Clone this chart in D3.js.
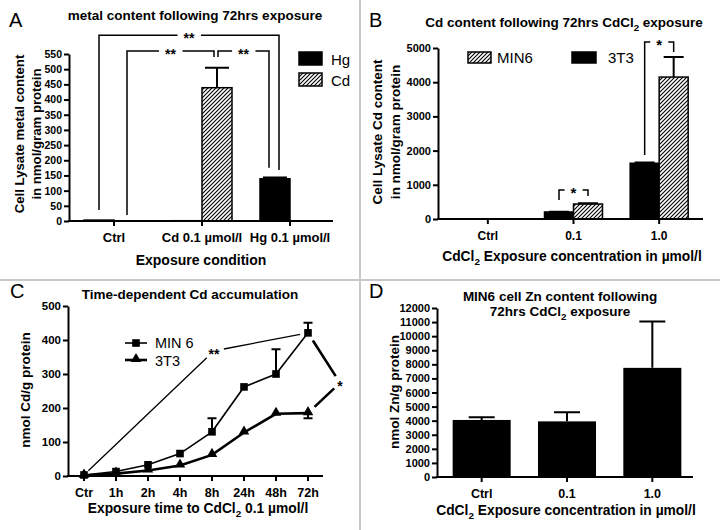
<!DOCTYPE html>
<html>
<head>
<meta charset="utf-8">
<script src="https://cdn.jsdelivr.net/npm/d3@7"></script>
<style>
  body { margin: 0; background: #fff; }
  text { font-family: "Liberation Sans", Arial, sans-serif; fill: #000; }
</style>
</head>
<body>
<div id="figure"></div>
<script>
// ---- panel A : metal content
const aCategories = ["Ctrl", "Cd 0.1 µmol/l", "Hg 0.1 µmol/l"];
const aHg = [3, 1, 139];
const aHgErr = [0, 0, 4];
const aCd = [0, 439, 0];
const aCdErr = [0, 66, 0];
const aYTicks = [0, 50, 100, 150, 200, 250, 300, 350, 400, 450, 500, 550];
const aSig = [
    {from: ["Ctrl", "Hg"], to: ["Hg 0.1 µmol/l", "Hg"], top: 612, left: 36, right: 168, label: "**"},
    {from: ["Ctrl", "Cd"], to: ["Cd 0.1 µmol/l", "Cd"], top: 560, left: 20, right: 540, label: "**"},
    {from: ["Cd 0.1 µmol/l", "Cd"], to: ["Hg 0.1 µmol/l", "Hg"], top: 560, left: 540, right: 175, label: "**"}
];

// ---- panel B : Cd content by cell line
const bCategories = ["Ctrl", "0.1", "1.0"];
const bMin6 = [5, 438, 4150];
const bMin6Err = [0, 25, 590];
const b3T3 = [5, 205, 1630];
const b3T3Err = [0, 10, 20];
const bYTicks = [0, 1000, 2000, 3000, 4000, 5000];
const bSig = [
    {from: ["0.1", "3T3"], to: ["0.1", "MIN6"], top: 848, left: 555, right: 672, label: "*"},
    {from: ["1.0", "3T3"], to: ["1.0", "MIN6"], top: 5175, left: 1871, right: 4883, label: "*"}
];

// ---- panel C : time course
const cCategories = ["Ctr", "1h", "2h", "4h", "8h", "24h", "48h", "72h"];
const cMin6 = [3, 13, 33, 66, 130, 262, 300, 421];
const cMin6Err = [2, 2, 4, 6, 40, 5, 73, 30];
const c3T3 = [1, 7, 16, 31, 62, 128, 183, 185];
const c3T3Err = [1, 1, 2, 3, 4, 6, 5, 15];
const cYTicks = [0, 100, 200, 300, 400, 500];

// ---- panel D : Zn content
const dCategories = ["Ctrl", "0.1", "1.0"];
const dZn = [4050, 3950, 7750];
const dZnErr = [200, 650, 3300];
const dYTicks = [0, 1000, 2000, 3000, 4000, 5000, 6000, 7000, 8000, 9000, 10000, 11000, 12000];

const width = 720;
const height = 530;

let svg = d3.select("#figure")
    .append("svg")
    .attr("width", width)
    .attr("height", height)
    .style("background", "#fff");

let pattern = svg.append("defs").append("pattern")
    .attr("id", "hatch")
    .attr("patternUnits", "userSpaceOnUse")
    .attr("width", 4)
    .attr("height", 4);
pattern.append("rect").attr("width", 4).attr("height", 4).attr("fill", "#fff");
pattern.append("path")
    .attr("d", "M-1,1 l2,-2 M0,4 l4,-4 M3,5 l2,-2")
    .attr("stroke", "#000")
    .attr("stroke-width", 1.1);

// panel dividers
svg.append("line").attr("x1", 360).attr("x2", 360).attr("y1", 0).attr("y2", height)
    .attr("stroke", "#c8c8c8").attr("stroke-width", 2);
svg.append("line").attr("x1", 0).attr("x2", width).attr("y1", 280).attr("y2", 280)
    .attr("stroke", "#c8c8c8").attr("stroke-width", 2);

function addText(g, parts, x, y, size, weight, anchor) {
    let t = g.append("text")
        .attr("x", x)
        .attr("y", y)
        .attr("text-anchor", anchor || "middle")
        .style("font-size", size + "px")
        .style("font-weight", weight || "bold");
    let shift = 0;
    [].concat(parts).forEach(p => {
        if (typeof p === "string") {
            t.append("tspan").attr("dy", -shift).text(p);
            shift = 0;
        } else {
            shift = size * 0.3;
            t.append("tspan").attr("dy", shift).style("font-size", (size * 0.72) + "px").text(p.sub);
        }
    });
    return t;
}

function addYLabel(g, parts, x, y, size) {
    addText(g, parts, 0, 0, size).attr("transform", `translate(${x},${y}) rotate(-90)`);
}

function drawAxes(g, box, x, y, yTicks, ySize, xSize) {
    let ya = g.append("g")
        .attr("transform", `translate(${box.left},0)`)
        .call(d3.axisLeft(y).tickValues(yTicks).tickFormat(d3.format("d"))
            .tickSize(5).tickSizeOuter(0).tickPadding(2));
    ya.select(".domain").attr("stroke-width", 2);
    ya.selectAll(".tick line").attr("stroke-width", 2);
    ya.selectAll(".tick text").style("font-size", ySize + "px").style("font-weight", "bold");

    let xa = g.append("g")
        .attr("transform", `translate(0,${box.bottom})`)
        .call(d3.axisBottom(x).tickSize(5).tickSizeOuter(0).tickPadding(7));
    xa.select(".domain").remove();
    xa.append("line")
        .attr("x1", box.left - 1).attr("x2", box.right)
        .attr("stroke", "#000").attr("stroke-width", 2);
    xa.selectAll(".tick line").attr("stroke-width", 2);
    xa.selectAll(".tick text").style("font-size", xSize + "px").style("font-weight", "bold");
}

function drawGroupedBars(g, cats, series, x, x1, y) {
    series.forEach(s => {
        g.selectAll(null)
            .data(cats.map((c, i) => ({c: c, v: s.values[i], e: s.errors[i]})))
            .enter()
            .append("rect")
            .attr("x", d => x(d.c) + x.bandwidth() / 2 + x1(s.name))
            .attr("width", x1.bandwidth())
            .attr("y", d => y(d.v))
            .attr("height", d => y(0) - y(d.v))
            .attr("fill", s.fill)
            .attr("stroke", "#000")
            .attr("stroke-width", 1.5);
        drawErrors(g, cats.map((c, i) => ({
            cx: x(c) + x.bandwidth() / 2 + x1(s.name) + x1.bandwidth() / 2,
            v: s.values[i], e: s.errors[i]
        })).filter(d => d.e > 0), y, s.cap, 1);
    });
}

function drawErrors(g, data, y, cap, dir) {
    g.selectAll(null)
        .data(data)
        .enter()
        .append("path")
        .attr("d", d => `M${d.cx},${y(d.v)} V${y(d.v + dir * d.e)} M${d.cx - cap / 2},${y(d.v + dir * d.e)} h${cap}`)
        .attr("fill", "none")
        .attr("stroke", "#000")
        .attr("stroke-width", 2);
}

function labelWithGap(g, txt, cx, cy, size) {
    let bg = g.append("rect").attr("fill", "#fff");
    let t = g.append("text")
        .attr("x", cx)
        .attr("y", cy + size * 0.55)
        .attr("text-anchor", "middle")
        .style("font-size", size + "px")
        .style("font-weight", "bold")
        .text(txt);
    let bb = t.node().getBBox();
    bg.attr("x", bb.x - 6).attr("width", bb.width + 12)
        .attr("y", cy - 3).attr("height", 6);
}

function drawBrackets(g, sig, barCenter, y, nudges, size) {
    sig.forEach((s, i) => {
        let x1 = barCenter(s.from) + nudges[i][0];
        let x2 = barCenter(s.to) + nudges[i][1];
        g.append("path")
            .attr("d", `M${x1},${y(s.left)} V${y(s.top)} H${x2} V${y(s.right)}`)
            .attr("fill", "none")
            .attr("stroke", "#000")
            .attr("stroke-width", 1.5);
        labelWithGap(g, s.label, (x1 + x2) / 2, y(s.top), size);
    });
}

// ================= panel A
{
    let g = svg.append("g");
    const box = {left: 69, right: 333, bottom: 221, top: 54};
    let x = d3.scaleBand().domain(aCategories).range([70, 334]);
    let x1 = d3.scaleBand().domain(["Hg", "Cd"]).range([-30, 30]);
    let y = d3.scaleLinear().domain([0, 550]).range([box.bottom, box.top]);

    drawGroupedBars(g, aCategories, [
        {name: "Hg", values: aHg, errors: aHgErr, fill: "#000", cap: 24},
        {name: "Cd", values: aCd, errors: aCdErr, fill: "url(#hatch)", cap: 24}
    ], x, x1, y);
    drawAxes(g, box, x, y, aYTicks, 10.5, 13);

    let center = ref => x(ref[0]) + x.bandwidth() / 2 + x1(ref[1]) + x1.bandwidth() / 2;
    drawBrackets(g, aSig, center, y, [[0, 4], [-2, -3], [1, -6]], 14);

    addText(g, "metal content following 72hrs exposure", 195, 20, 13.5);
    addText(g, "A", 9, 27, 20, "normal", "start");
    addText(g, "Exposure condition", 201, 265, 14);
    addYLabel(g, "Cell Lysate metal content", 24, 134, 13.2);
    addYLabel(g, "in nmol/gram protein", 41, 134, 13.2);

    g.append("rect").attr("x", 299).attr("y", 52).attr("width", 23).attr("height", 13)
        .attr("fill", "#000").attr("stroke", "#000").attr("stroke-width", 1.5);
    g.append("rect").attr("x", 299).attr("y", 73).attr("width", 23).attr("height", 13)
        .attr("fill", "url(#hatch)").attr("stroke", "#000").attr("stroke-width", 1.5);
    addText(g, "Hg", 331, 65, 15, "normal", "start");
    addText(g, "Cd", 331, 86, 15, "normal", "start");
}

// ================= panel B
{
    let g = svg.append("g");
    const box = {left: 438, right: 703, bottom: 219, top: 48};
    let x = d3.scaleBand().domain(bCategories).range([445, 702]);
    let x1 = d3.scaleBand().domain(["3T3", "MIN6"]).range([-29, 29]);
    let y = d3.scaleLinear().domain([0, 5000]).range([box.bottom, box.top]);

    drawGroupedBars(g, bCategories, [
        {name: "3T3", values: b3T3, errors: b3T3Err, fill: "#000", cap: 20},
        {name: "MIN6", values: bMin6, errors: bMin6Err, fill: "url(#hatch)", cap: 20}
    ], x, x1, y);
    drawAxes(g, box, x, y, bYTicks, 11, 12);

    let center = ref => x(ref[0]) + x.bandwidth() / 2 + x1(ref[1]) + x1.bandwidth() / 2;
    drawBrackets(g, bSig, center, y, [[0, 0], [0, 0]], 15);

    addText(g, ["Cd content following 72hrs CdCl", {sub: "2"}, " exposure"], 564, 27, 13.5);
    addText(g, "B", 369, 27, 20, "normal", "start");
    addText(g, ["CdCl", {sub: "2"}, " Exposure concentration in µmol/l"], 572, 261, 13.8);
    addYLabel(g, "Cell Lysate Cd content", 382, 132, 13.5);
    addYLabel(g, "in nmol/gram protein", 400, 132, 13.5);

    g.append("rect").attr("x", 468).attr("y", 52).attr("width", 23).attr("height", 11)
        .attr("fill", "url(#hatch)").attr("stroke", "#000").attr("stroke-width", 1.5);
    g.append("rect").attr("x", 572).attr("y", 52).attr("width", 24).attr("height", 11)
        .attr("fill", "#000").attr("stroke", "#000").attr("stroke-width", 1.5);
    addText(g, "MIN6", 497, 63, 15, "normal", "start");
    addText(g, "3T3", 608, 63, 15, "normal", "start");
}

// ================= panel C
{
    let g = svg.append("g");
    const box = {left: 68, right: 323, bottom: 476, top: 306};
    let x = d3.scaleBand().domain(cCategories).range([68, 324]);
    let y = d3.scaleLinear().domain([0, 500]).range([box.bottom, box.top]);
    let cx = c => x(c) + x.bandwidth() / 2;

    drawAxes(g, box, x, y, cYTicks, 11.5, 12.5);

    let line = d3.line().x(d => cx(d.c)).y(d => y(d.v));
    let min6 = cCategories.map((c, i) => ({c: c, v: cMin6[i], e: cMin6Err[i], cx: cx(c)}));
    let t3 = cCategories.map((c, i) => ({c: c, v: c3T3[i], e: c3T3Err[i], cx: cx(c)}));

    drawErrors(g, min6.filter(d => d.e > 8), y, 9, 1);
    drawErrors(g, t3.filter(d => d.e > 8), y, 9, -1);

    g.append("path").datum(min6).attr("d", line)
        .attr("fill", "none").attr("stroke", "#000").attr("stroke-width", 1.6);
    g.append("path").datum(t3).attr("d", line)
        .attr("fill", "none").attr("stroke", "#000").attr("stroke-width", 2.6);

    let square = d3.symbol(d3.symbolSquare, 58);
    let triangle = d3.symbol(d3.symbolTriangle, 48);
    g.selectAll(null).data(min6).enter().append("path")
        .attr("transform", d => `translate(${d.cx},${y(d.v)})`).attr("d", square);
    g.selectAll(null).data(t3).enter().append("path")
        .attr("transform", d => `translate(${d.cx},${y(d.v) - 1})`).attr("d", triangle);

    // significance annotations: start point, label point, end point
    function annotate(p0, pl, p1, txt, sw, gap0, gapL, gap1) {
        let shrink = (a, b, d) => {
            let dx = b[0] - a[0], dy = b[1] - a[1], L = Math.hypot(dx, dy);
            return [a[0] + dx / L * d, a[1] + dy / L * d];
        };
        let s0 = shrink(p0, pl, gap0), e0 = shrink(pl, p0, gapL);
        let s1 = shrink(pl, p1, gapL), e1 = shrink(p1, pl, gap1);
        g.append("path")
            .attr("d", `M${s0}L${e0}M${s1}L${e1}`)
            .attr("fill", "none").attr("stroke", "#000").attr("stroke-width", sw);
        g.append("text").attr("x", pl[0]).attr("y", pl[1] + 8)
            .attr("text-anchor", "middle").style("font-size", "14px").style("font-weight", "bold")
            .text(txt);
    }
    annotate([cx("Ctr"), y(cMin6[0])], [cx("8h") + 2, y(368)], [cx("72h"), y(cMin6[7])],
        "**", 1.3, 6, 10, 8);
    annotate([cx("72h"), y(cMin6[7])], [cx("72h") + x.step(), y(274)], [cx("72h"), y(c3T3[7])],
        "*", 2.6, 9, 8, 9);

    addText(g, "Time-dependent Cd accumulation", 190, 299, 13.5);
    addText(g, "C", 10, 298, 20, "normal", "start");
    addText(g, ["Exposure time to CdCl", {sub: "2"}, " 0.1 µmol/l"], 198, 513, 13.8);
    addYLabel(g, "nmol Cd/g protein", 30, 390, 13.5);

    // legend
    g.append("line").attr("x1", 125).attr("x2", 147).attr("y1", 343).attr("y2", 343)
        .attr("stroke", "#000").attr("stroke-width", 1.6);
    g.append("path").attr("transform", "translate(136,343)").attr("d", square);
    g.append("line").attr("x1", 125).attr("x2", 147).attr("y1", 360).attr("y2", 360)
        .attr("stroke", "#000").attr("stroke-width", 2.6);
    g.append("path").attr("transform", "translate(136,359)").attr("d", triangle);
    addText(g, "MIN 6", 155, 348, 14.5, "normal", "start");
    addText(g, "3T3", 155, 366, 14.5, "normal", "start");
}

// ================= panel D
{
    let g = svg.append("g");
    const box = {left: 437, right: 693, bottom: 477, top: 308};
    let x = d3.scaleBand().domain(dCategories).range([439, 695]).paddingInner(0.32).paddingOuter(0.16);
    let y = d3.scaleLinear().domain([0, 12000]).range([box.bottom, box.top]);

    g.selectAll(null)
        .data(dCategories.map((c, i) => ({c: c, v: dZn[i], e: dZnErr[i]})))
        .enter()
        .append("rect")
        .attr("x", d => x(d.c))
        .attr("width", x.bandwidth())
        .attr("y", d => y(d.v))
        .attr("height", d => y(0) - y(d.v))
        .attr("fill", "#000");
    drawErrors(g, dCategories.map((c, i) => ({cx: x(c) + x.bandwidth() / 2, v: dZn[i], e: dZnErr[i]})), y, 26, 1);
    drawAxes(g, box, x, y, dYTicks, 11, 12.5);

    addText(g, "MIN6 cell Zn content following", 560, 301, 13.5);
    addText(g, ["72hrs CdCl", {sub: "2"}, " exposure"], 560, 316, 13.5);
    addText(g, "D", 369, 298, 20, "normal", "start");
    addText(g, ["CdCl", {sub: "2"}, " Exposure concentration in µmol/l"], 566, 515, 13.8);
    addYLabel(g, "nmol Zn/g protein", 399, 392, 13.5);
}
</script>
</body>
</html>
